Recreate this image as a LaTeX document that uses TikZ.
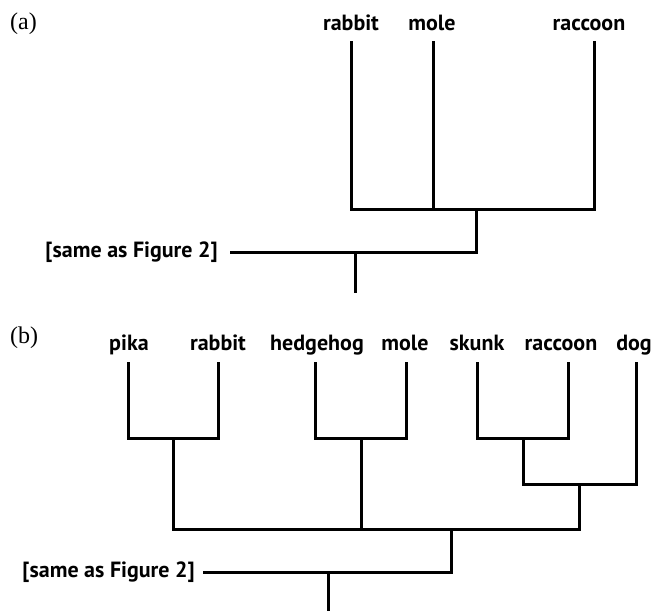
\documentclass[tikz,border=0pt]{standalone}
\usepackage{fontspec}
\setmainfont{PT Sans}
\newfontfamily\panelfont{Liberation Serif}
\tikzset{
  taxon/.style={anchor=base, inner sep=0pt, font=\fontsize{22}{26}\selectfont\bfseries},
  panel/.style={anchor=base west, inner sep=0pt, font=\fontsize{24}{28}\selectfont\panelfont},
  branch/.style={line width=3pt, line join=miter, line cap=rect}
}
\begin{document}
\begin{tikzpicture}[x=1pt,y=-1pt]
\useasboundingbox (0,0) rectangle (654,611);

% Panel (a)
\node[panel] (aLabel) at (10,29) {(a)};

% Taxa of tree a
\node[taxon] (aRabbit) at (351,30) {rabbit};
\node[taxon] (aMole) at (432,30) {mole};
\node[taxon] (aRaccoon) at (589,30) {raccoon};
\node[taxon, anchor=base east] (aSame) at (218,257) {[same as Figure 2]};

% Tips, joints and root of tree a
\coordinate (aTipRabbit) at (351,42);
\coordinate (aTipMole) at (433,42);
\coordinate (aTipRaccoon) at (594,42);
\coordinate (aJoin) at (476,209);
\coordinate (aBase) at (476,252);
\coordinate (aFree) at (231,252);
\coordinate (aRoot) at (355,252);
\coordinate (aRootEnd) at (355,291);

% Drawing tree a
\draw[branch] (aTipRabbit) -- (aTipRabbit |- aJoin) -- (aTipRaccoon |- aJoin) -- (aTipRaccoon);
\draw[branch] (aTipMole) -- (aTipMole |- aJoin);
\draw[branch] (aJoin) -- (aBase) -- (aFree);
\draw[branch] (aRoot) -- (aRootEnd);

% Panel (b)
\node[panel] (bLabel) at (10,343) {(b)};

% Taxa of tree b
\node[taxon] (bPika) at (129,350) {pika};
\node[taxon] (bRabbit) at (218,350) {rabbit};
\node[taxon] (bHedgehog) at (317,350) {hedgehog};
\node[taxon] (bMole) at (405,350) {mole};
\node[taxon] (bSkunk) at (477,350) {skunk};
\node[taxon] (bRaccoon) at (561,350) {raccoon};
\node[taxon] (bDog) at (634,350) {dog};
\node[taxon, anchor=base east] (bSame) at (195,577) {[same as Figure 2]};

% Tips of tree b
\coordinate (bTipPika) at (128,363);
\coordinate (bTipRabbit) at (218,363);
\coordinate (bTipHedgehog) at (315,363);
\coordinate (bTipMole) at (406,363);
\coordinate (bTipSkunk) at (477,363);
\coordinate (bTipRaccoon) at (568,363);
\coordinate (bTipDog) at (636,363);

% Joints of tree b
\coordinate (bJoinLago) at (173,438);
\coordinate (bJoinEuli) at (361,438);
\coordinate (bJoinMust) at (523,438);
\coordinate (bJoinCarn) at (579,484);
\coordinate (bJoinAll) at (451,529);
\coordinate (bBase) at (451,572);
\coordinate (bFree) at (204,572);
\coordinate (bRoot) at (328,572);
\coordinate (bRootEnd) at (328,611);

% Drawing cherries of tree b
\draw[branch] (bTipPika) -- (bTipPika |- bJoinLago) -- (bTipRabbit |- bJoinLago) -- (bTipRabbit);
\draw[branch] (bTipHedgehog) -- (bTipHedgehog |- bJoinEuli) -- (bTipMole |- bJoinEuli) -- (bTipMole);
\draw[branch] (bTipSkunk) -- (bTipSkunk |- bJoinMust) -- (bTipRaccoon |- bJoinMust) -- (bTipRaccoon);

% Drawing carnivores
\draw[branch] (bJoinMust) -- (bJoinMust |- bJoinCarn) -- (bTipDog |- bJoinCarn) -- (bTipDog);

% Drawing main split of tree b
\draw[branch] (bJoinLago) -- (bJoinLago |- bJoinAll) -- (bJoinCarn |- bJoinAll) -- (bJoinCarn);
\draw[branch] (bJoinEuli) -- (bJoinEuli |- bJoinAll);
\draw[branch] (bJoinAll) -- (bBase) -- (bFree);
\draw[branch] (bRoot) -- (bRootEnd);
\end{tikzpicture}
\end{document}
